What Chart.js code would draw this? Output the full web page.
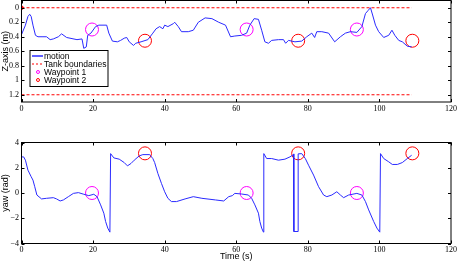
<!DOCTYPE html>
<html>
<head>
<meta charset="utf-8">
<script src="https://cdn.jsdelivr.net/npm/chart.js@4.4.1/dist/chart.umd.min.js"></script>
<style>
html, body { margin: 0; padding: 0; background: #fff; }
#wrap { position: relative; width: 457px; height: 262px; overflow: hidden; }
canvas { position: absolute; left: 0; }
#zChart { top: 0; }
#yawChart { top: 125px; }
</style>
</head>
<body>
<div id="wrap">
  <canvas id="zChart" width="457" height="118"></canvas>
  <canvas id="yawChart" width="457" height="137"></canvas>
</div>
<script>
// depth (z) trace
const zTime = [0, 1.1, 1.8, 2.3, 2.7, 3.2, 3.9, 4.6, 6.0, 7.0, 8.0, 8.9, 10.3, 11.2, 12.6, 15.5, 16.9, 17.4, 18.1, 18.5,
  19.4, 20.7, 21.6, 23.8, 24.4, 25.4, 26.8, 27.7, 28.7, 29.4, 30.1, 31.3, 31.9, 33.4, 35.3, 36.7, 37.6, 38.6, 39.5, 40.0,
  40.9, 42.4, 42.8, 43.8, 44.7, 46.6, 48.0, 49.4, 51.3, 53.2, 55.1, 57.0, 58.4, 59.6, 61.5, 62.9, 63.8, 65.0, 66.2, 67.1,
  68.0, 69.0, 69.9, 71.8, 73.2, 73.8, 74.6, 76.4, 78.3, 79.7, 81.1, 81.9, 82.5, 83.9, 85.8, 87.5, 89.1, 90.5, 91.9, 93.7,
  95.1, 96.1, 96.8, 97.5, 98.1, 98.9, 99.8, 101.2, 102.6, 103.5, 104.3, 105.4, 106.4, 107.8, 109.0];
const zValues = [0.37, 0.24, 0.12, 0.09, 0.12, 0.24, 0.38, 0.40, 0.40, 0.40, 0.44, 0.43, 0.40, 0.36, 0.41, 0.44, 0.43, 0.56, 0.54, 0.38,
  0.35, 0.26, 0.24, 0.24, 0.35, 0.46, 0.47, 0.45, 0.42, 0.41, 0.47, 0.52, 0.49, 0.47, 0.44, 0.35, 0.29, 0.26, 0.29, 0.24,
  0.26, 0.22, 0.20, 0.26, 0.33, 0.33, 0.31, 0.20, 0.14, 0.15, 0.20, 0.24, 0.40, 0.39, 0.38, 0.35, 0.24, 0.15, 0.16, 0.31,
  0.47, 0.49, 0.45, 0.44, 0.44, 0.49, 0.45, 0.47, 0.46, 0.40, 0.35, 0.41, 0.33, 0.33, 0.35, 0.47, 0.40, 0.35, 0.33, 0.34,
  0.26, 0.08, 0.04, 0.00, 0.10, 0.24, 0.33, 0.41, 0.38, 0.31, 0.38, 0.45, 0.47, 0.53, 0.54];

// yaw trace
const yawTime = [0, 0.6, 1.1, 1.8, 2.7, 3.2, 3.7, 4.3, 5.6, 7.0, 8.9, 9.8, 10.8, 11.7, 13.1, 14.5, 15.9, 17.4, 18.8, 20.2,
  21.1, 22.1, 23.0, 23.5, 24.1, 24.7, 24.9, 25.8, 27.3, 28.7, 29.6, 30.6, 31.5, 32.9, 33.9, 35.8, 36.7, 37.2, 38.1, 39.1,
  40.0, 40.9, 41.9, 43.3, 45.7, 48.0, 50.4, 54.2, 56.5, 57.9, 58.9, 59.6, 61.5, 63.4, 64.3, 65.2, 66.2, 66.6, 67.1, 67.6,
  67.7, 68.5, 69.9, 71.8, 73.6, 75.0, 76.0, 76.1, 76.1, 77.3, 77.3, 78.3, 79.3, 80.2, 81.6, 83.0,
  84.4, 85.3, 86.7, 88.1, 89.1, 90.0, 91.4, 93.7, 95.1, 96.1, 97.0, 98.4, 99.3, 100.1, 100.3, 101.2, 102.6, 103.6, 105.0, 106.4,
  107.8, 109.0];
const yawValues = [2.86, 2.86, 2.6, 1.81, 1.29, 1.02, 0.5, -0.16, -0.47, -0.42, -0.37, -0.47, -0.63, -0.55, -0.29, -0.03, 0.03, -0.1, -0.21, -0.1,
  -0.29, -0.94, -1.6, -2.26, -2.78, -3.1, 3.12, 2.78, 2.68, 2.41, 2.15, 2.34, 2.6, 2.94, 3.04, 3.04, 2.73, 2.41, 1.55, 0.76,
  0.1, -0.42, -0.68, -0.68, -0.47, -0.29, -0.42, -0.55, -0.63, -0.29, -0.21, -0.03, -0.08, -0.16, -0.42, -0.94, -1.6, -2.26, -2.78, -3.1,
  3.12, 2.73, 2.73, 2.6, 2.68, 2.86, 3.04, 3.1, -3.05, -3.05, 3.1, 3.12, 2.73, 2.2, 1.42, 0.5,
  -0.16, -0.29, -0.16, 0.1, -0.16, -0.37, -0.16, -0.03, -0.16, -0.68, -1.34, -2.26, -2.78, -3.1, 3.12, 2.73, 2.47, 2.26, 2.26, 2.41,
  2.73, 2.99];

// waypoints
const wp1Time = [19.7, 62.9, 93.7];
const wp1Z = [0.3, 0.3, 0.3];
const wp1Yaw = [0, 0, 0];
const wp2Time = [34.5, 77.3, 109.2];
const wp2Z = [0.455, 0.455, 0.455];
const wp2Yaw = [3.14, 3.14, 3.14];

// tank boundaries
const tankDepths = [0, 1.2];
const tankSpan = [0, 109];

const timeTicks = [0, 20, 40, 60, 80, 100, 120];
const zTicks = [0, 0.2, 0.4, 0.6, 0.8, 1, 1.2];
const yawTicks = [4, 2, 0, -2, -4];

const BLUE = "#2a2aff";
const RED = "#ff0000";
const MAGENTA = "#ff00ff";
const tickFont = { family: "'Liberation Serif', 'Times New Roman', serif", size: 8 };
const labelFont = { family: "'Liberation Sans', Arial, sans-serif", size: 9 };

const pts = (xs, ys) => xs.map((x, i) => ({ x, y: ys[i] }));

// box around the axes + inward tick marks (matlab look)
const framePlugin = {
  id: "frame",
  afterDatasetsDraw(chart) {
    const { ctx, chartArea: a, scales } = chart;
    const tl = 3;
    ctx.save();
    ctx.strokeStyle = "#000";
    ctx.lineWidth = 1;
    ctx.beginPath();
    scales.x.ticks.forEach(t => {
      const px = Math.round(scales.x.getPixelForValue(t.value)) + 0.5;
      ctx.moveTo(px, a.bottom); ctx.lineTo(px, a.bottom - tl);
      ctx.moveTo(px, a.top); ctx.lineTo(px, a.top + tl);
    });
    scales.y.ticks.forEach(t => {
      const py = Math.round(scales.y.getPixelForValue(t.value)) + 0.5;
      ctx.moveTo(a.left, py); ctx.lineTo(a.left + tl, py);
      ctx.moveTo(a.right, py); ctx.lineTo(a.right - tl, py);
    });
    ctx.stroke();
    ctx.strokeRect(a.left, a.top, a.right - a.left, a.bottom - a.top);
    ctx.restore();
  }
};

const legendPlugin = {
  id: "boxLegend",
  afterDraw(chart) {
    const { ctx, chartArea: a } = chart;
    const x0 = a.left + 8.5, y0 = 50.5, w = 78, h = 36;
    ctx.save();
    ctx.fillStyle = "#fff";
    ctx.fillRect(x0, y0, w, h);
    ctx.strokeStyle = "#000";
    ctx.lineWidth = 1;
    ctx.strokeRect(x0, y0, w, h);
    ctx.font = "8.5px 'Liberation Sans', Arial, sans-serif";
    ctx.textBaseline = "middle";
    const rows = [
      { text: "motion", kind: "line", color: BLUE },
      { text: "Tank boundaries", kind: "dash", color: RED },
      { text: "Waypoint 1", kind: "dot", color: MAGENTA },
      { text: "Waypoint 2", kind: "dot", color: RED }
    ];
    rows.forEach((r, i) => {
      const cy = y0 + 5.5 + i * 8;
      ctx.strokeStyle = r.color;
      ctx.lineWidth = r.kind === "line" ? 1.5 : 1;
      ctx.beginPath();
      if (r.kind === "dot") {
        ctx.arc(x0 + 8, cy, 1.5, 0, Math.PI * 2);
      } else {
        ctx.setLineDash(r.kind === "dash" ? [2, 2] : []);
        ctx.moveTo(x0 + 2, cy); ctx.lineTo(x0 + 13, cy);
      }
      ctx.stroke();
      ctx.setLineDash([]);
      ctx.fillStyle = "#000";
      ctx.fillText(r.text, x0 + 14, cy + 0.5);
    });
    ctx.restore();
  }
};

function waypointSet(xs, ys, color) {
  return {
    type: "scatter", data: pts(xs, ys),
    borderColor: color, backgroundColor: "transparent", borderWidth: 1,
    pointRadius: 6.5, pointHoverRadius: 6.5, pointStyle: "circle"
  };
}

function xAxis(height, title) {
  return {
    type: "linear", min: 0, max: 120,
    grid: { display: false, drawTicks: false }, border: { display: false },
    afterBuildTicks: s => { s.ticks = timeTicks.map(v => ({ value: v })); },
    ticks: { font: tickFont, color: "#000", padding: 2, maxRotation: 0, autoSkip: false },
    title: title ? { display: true, text: title, font: labelFont, color: "#000", padding: 0 } : { display: false },
    afterFit: s => { s.height = height; s.paddingLeft = 0; s.paddingRight = 0; }
  };
}

function yAxis(min, max, ticks, reverse, title, fmt) {
  return {
    type: "linear", min, max, reverse,
    grid: { display: false, drawTicks: false }, border: { display: false },
    afterBuildTicks: s => { s.ticks = ticks.map(v => ({ value: v })); },
    ticks: { font: tickFont, color: "#000", padding: 2.5, callback: fmt },
    title: { display: true, text: title, font: labelFont, color: "#000", padding: 0 },
    afterFit: s => { s.width = 21.5; s.paddingTop = 0; s.paddingBottom = 0; }
  };
}

const common = {
  responsive: false, animation: false, devicePixelRatio: 1,
  plugins: { legend: { display: false }, tooltip: { enabled: false } },
  elements: { line: { tension: 0 }, point: { radius: 0 } }
};

new Chart(document.getElementById("zChart"), {
  type: "line",
  data: {
    datasets: [
      { label: "motion", data: pts(zTime, zValues), borderColor: BLUE, borderWidth: 1, pointRadius: 0 },
      { label: "Tank boundaries", data: pts(tankSpan, [tankDepths[0], tankDepths[0]]), borderColor: RED, borderWidth: 1, borderDash: [3, 2], pointRadius: 0 },
      { label: "", data: pts(tankSpan, [tankDepths[1], tankDepths[1]]), borderColor: RED, borderWidth: 1, borderDash: [3, 2], pointRadius: 0 },
      { label: "", type: "scatter", data: pts([0], [0]), backgroundColor: RED, borderColor: RED, pointRadius: 1.8 },
      waypointSet(wp1Time, wp1Z, MAGENTA),
      waypointSet(wp2Time, wp2Z, RED)
    ]
  },
  options: {
    ...common,
    layout: { autoPadding: false, padding: { left: 0, right: 6, top: 0.5, bottom: 0 } },
    scales: {
      x: xAxis(16, null),
      y: yAxis(-0.1, 1.3, zTicks, true, "Z-axis (m)", v => String(v))
    }
  },
  plugins: [framePlugin, legendPlugin]
});

new Chart(document.getElementById("yawChart"), {
  type: "line",
  data: {
    datasets: [
      { label: "motion", data: pts(yawTime, yawValues), borderColor: BLUE, borderWidth: 1, pointRadius: 0 },
      waypointSet(wp1Time, wp1Yaw, MAGENTA),
      waypointSet(wp2Time, wp2Yaw, RED)
    ]
  },
  options: {
    ...common,
    layout: { autoPadding: false, padding: { left: 0, right: 6, top: 17.5, bottom: 0 } },
    scales: {
      x: xAxis(18.5, "Time (s)"),
      y: yAxis(-4, 4, yawTicks, false, "yaw (rad)", v => (v < 0 ? "\u2212" + Math.abs(v) : String(v)))
    }
  },
  plugins: [framePlugin]
});
</script>
</body>
</html>
